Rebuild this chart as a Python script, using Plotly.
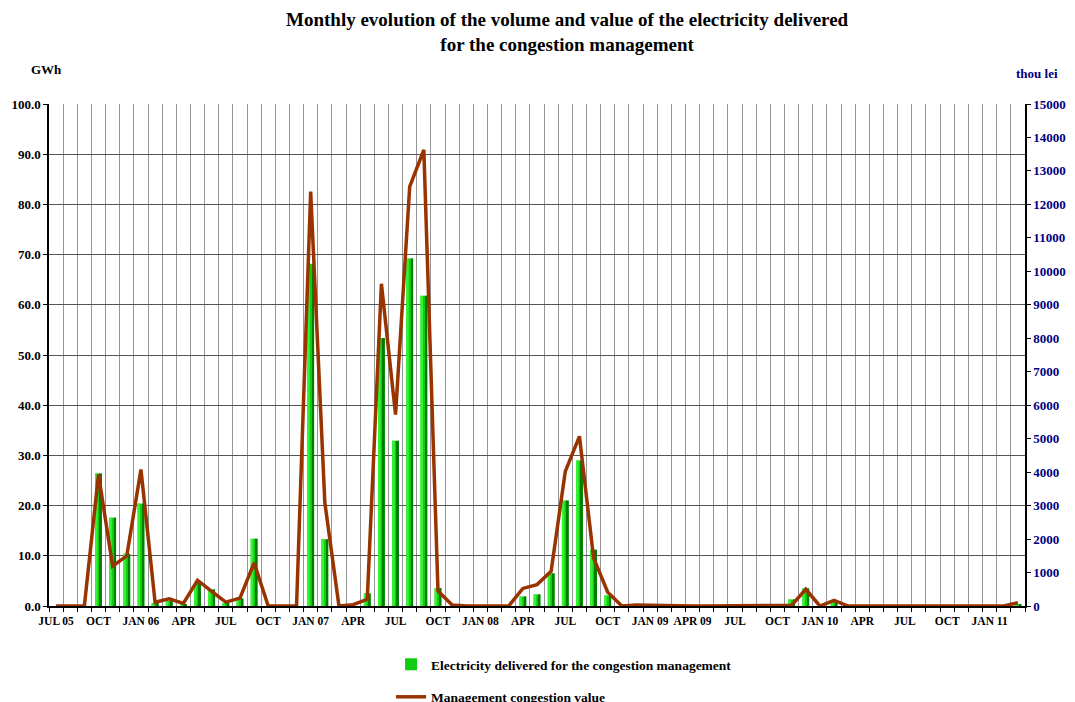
import plotly.graph_objects as go

# ---- data ----
month_labels = ["JUL 05", "OCT", "JAN 06", "APR", "JUL", "OCT", "JAN 07", "APR", "JUL", "OCT",
                "JAN 08", "APR", "JUL", "OCT", "JAN 09", "APR 09", "JUL", "OCT", "JAN 10", "APR",
                "JUL", "OCT", "JAN 11"]
n_months = 69  # JUL 2005 .. MAR 2011

volume_gwh = [0, 0, 0, 26.4, 17.6, 10.4, 20.4, 0.6, 1.0, 0.4,
              4.6, 3.3, 0.6, 1.5, 13.4, 0, 0, 0, 68.2, 13.3,
              0, 0, 2.5, 53.4, 32.9, 69.2, 61.8, 3.6, 0, 0,
              0, 0, 0, 1.9, 2.3, 6.5, 21.0, 29.0, 11.2, 2.1,
              0, 0, 0, 0, 0, 0, 0, 0, 0, 0,
              0, 0, 1.3, 3.5, 0, 0.8, 0, 0, 0, 0,
              0, 0, 0, 0, 0, 0, 0, 0, 0.3]

value_thou_lei = [0, 0, 0, 3930, 1190, 1500, 4080, 110, 215, 75,
                  770, 440, 115, 235, 1290, 0, 0, 0, 12380, 3090,
                  0, 40, 200, 9630, 5720, 12530, 13630, 450, 30, 0,
                  0, 0, 0, 525, 640, 1040, 4020, 5070, 1440, 410,
                  0, 30, 20, 0, 0, 0, 0, 0, 0, 0,
                  0, 0, 20, 500, 0, 170, 0, 0, 0, 0,
                  0, 0, 0, 0, 0, 0, 0, 0, 100]

x_idx = list(range(n_months))
label_pos = list(range(0, n_months, 3))[:len(month_labels)]

SERIF = "Liberation Serif, Times New Roman, serif"
NAVY = "#000080"

fig = go.Figure()

# bar with simulated gradient (mid, light left strip, dark right strip)
fig.add_trace(go.Bar(
    x=x_idx, y=volume_gwh, width=0.48, offset=-0.24,
    marker=dict(color="#11cc11", line=dict(width=0)),
    name="<b>Electricity delivered for the congestion management</b>",
    legendgroup="a", yaxis="y"))
fig.add_trace(go.Bar(
    x=x_idx, y=volume_gwh, width=0.18, offset=-0.24,
    marker=dict(color="#33f533", line=dict(width=0)),
    showlegend=False, legendgroup="a", hoverinfo="skip", yaxis="y"))
fig.add_trace(go.Bar(
    x=x_idx, y=volume_gwh, width=0.14, offset=0.10,
    marker=dict(color="#007d00", line=dict(width=0)),
    showlegend=False, legendgroup="a", hoverinfo="skip", yaxis="y"))

fig.add_trace(go.Scatter(
    x=x_idx, y=value_thou_lei, mode="lines",
    line=dict(color="#993300", width=3.5),
    name="<b>Management congestion value</b>", legendgroup="b", yaxis="y2"))

# the page body has an 8px default margin, so the figure is sized to the remaining area
W, H = 1067, 694

fig.update_layout(
    width=W, height=H,
    paper_bgcolor="white", plot_bgcolor="white",
    barmode="overlay",
    margin=dict(l=41, r=50, t=96, b=95.5, autoexpand=False),
    font=dict(family=SERIF, size=12, color="black"),
    title=dict(
        text="<b>Monthly evolution of the volume and value of the electricity delivered<br>for the congestion management</b>",
        x=0.524, xanchor="center", y=0.9735, yanchor="top",
        font=dict(family=SERIF, size=19, color="black")),
    xaxis=dict(
        range=[-0.5, n_months - 0.5], automargin=False,
        tickmode="array", tickvals=label_pos, ticktext=[f"<b>{t}</b>" for t in month_labels],
        ticks="", showgrid=False, zeroline=False,
        showline=True, linecolor="black", linewidth=2,
        ticklabelstandoff=3,
        tickfont=dict(family=SERIF, size=11.5, color="black"),
        minor=dict(tick0=-0.5, dtick=1, showgrid=True, gridcolor="#959595", gridwidth=1,
                   ticks="outside", ticklen=4, tickcolor="black"),
    ),
    yaxis=dict(
        range=[0, 100], dtick=10, tickformat=".1f", automargin=False,
        showgrid=True, gridcolor="#555555", gridwidth=1, zeroline=False,
        showline=True, linecolor="black", linewidth=1.5,
        ticks="outside", ticklen=4, tickcolor="black",
        tickfont=dict(family=SERIF, size=13, color="black"),
        tickprefix="<b>", ticksuffix="</b>",
    ),
    yaxis2=dict(
        range=[0, 15000], dtick=1000, tickformat="d", overlaying="y", side="right",
        automargin=False,
        showgrid=False, zeroline=False,
        showline=True, linecolor="black", linewidth=1.5,
        ticks="outside", ticklen=4, tickcolor="black",
        tickfont=dict(family=SERIF, size=13, color=NAVY),
        tickprefix="<b>", ticksuffix="</b>",
    ),
    legend=dict(
        xref="container", yref="container",
        x=0.359, xanchor="left", y=0.0764, yanchor="top",
        orientation="v", traceorder="grouped", tracegroupgap=12,
        font=dict(family=SERIF, size=13.5, color="black"),
        bgcolor="rgba(0,0,0,0)", itemwidth=30,
    ),
    showlegend=True,
)

fig.add_annotation(text="<b>GWh</b>", xref="paper", yref="paper", x=-0.003, y=1.068,
                   xanchor="center", yanchor="middle", showarrow=False,
                   font=dict(family=SERIF, size=13, color="black"))
fig.add_annotation(text="<b>thou lei</b>", xref="paper", yref="paper", x=1.012, y=1.06,
                   xanchor="center", yanchor="middle", showarrow=False,
                   font=dict(family=SERIF, size=13, color=NAVY))

fig.write_html("out.html")
